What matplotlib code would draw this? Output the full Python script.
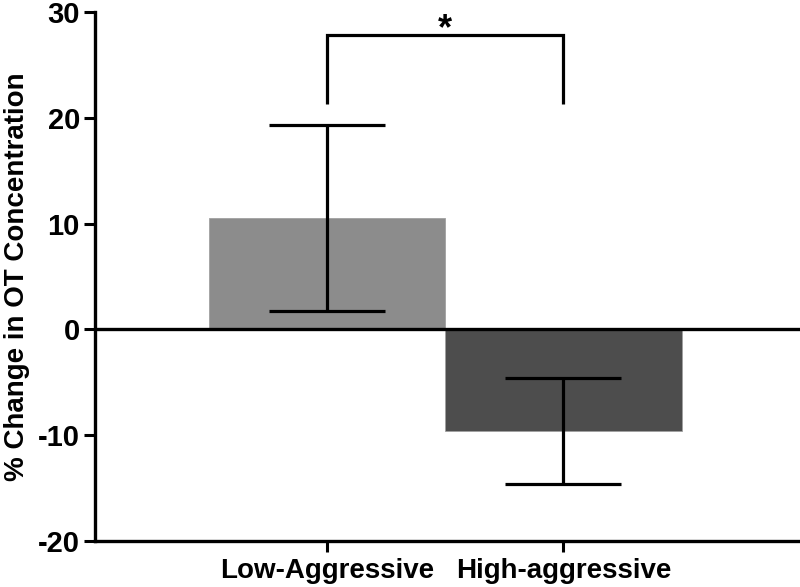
import matplotlib
matplotlib.use("Agg")
import matplotlib.pyplot as plt

# フォント設定（Arial系の太字）
plt.rcParams['font.family'] = ['Liberation Sans', 'DejaVu Sans']
plt.rcParams['font.weight'] = 'bold'
plt.rcParams['axes.unicode_minus'] = False  # ハイフンのマイナス記号

# データ
groups = ["Low-Aggressive", "High-aggressive"]
means = [10.5, -9.6]
errors = [8.8, 5.0]
bar_colors = ["#8c8c8c", "#4d4d4d"]
y_ticks = [-20, -10, 0, 10, 20, 30]

fig = plt.figure(figsize=(8, 5.87), dpi=100)
ax = fig.add_axes([0.119, 0.078, 0.881, 0.902])

x = list(range(len(groups)))
ax.bar(x, means, width=1.0, color=bar_colors, edgecolor="#a0a0a0", linewidth=0.6, zorder=2)
ax.errorbar(x, means, yerr=errors, fmt="none", ecolor="black", elinewidth=2.3,
            capsize=42, capthick=2.3, zorder=3)

# ゼロライン
ax.axhline(0, color="black", linewidth=2.4, zorder=4)

# 有意差のブラケット
ax.plot([x[0], x[0], x[1], x[1]], [21.3, 27.8, 27.8, 21.3], color="black",
        linewidth=2.3, solid_capstyle="butt", solid_joinstyle="miter")
ax.text((x[0] + x[1]) / 2, 28.3, "*", ha="center", va="center", fontsize=26, fontweight="bold")

ax.set_xlim(-0.98, 2.0)
ax.set_ylim(-20, 30)
ax.set_yticks(y_ticks)
ax.set_xticks(x)
ax.set_xticklabels(groups)
ax.set_ylabel("% Change in OT Concentration", fontsize=20, fontweight="bold")
ax.yaxis.set_label_coords(-0.092, 0.5)

for side in ["top", "right"]:
    ax.spines[side].set_visible(False)
for side in ["left", "bottom"]:
    ax.spines[side].set_linewidth(2.4)

ax.tick_params(axis="both", width=2.2, length=8, direction="out")
ax.tick_params(axis="y", labelsize=21, pad=3)
ax.tick_params(axis="x", labelsize=20, pad=4)

plt.savefig("out.png", dpi=100)
